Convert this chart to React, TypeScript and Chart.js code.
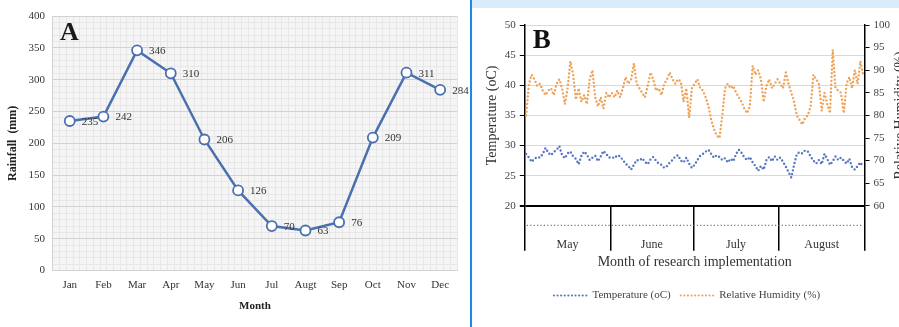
import React, { useEffect, useRef } from 'react';
import { Chart, registerables } from 'chart.js';

Chart.register(...registerables);

const SERIF = "'Liberation Serif', 'Times New Roman', serif";

// ---------- Panel A : monthly rainfall ----------
const rainMonths = ['Jan', 'Feb', 'Mar', 'Apr', 'May', 'Jun', 'Jul', 'Augt', 'Sep', 'Oct', 'Nov', 'Dec'];
const rainfall = [235, 242, 346, 310, 206, 126, 70, 63, 76, 209, 311, 284];
const rainTicks = [0, 50, 100, 150, 200, 250, 300, 350, 400];

// ---------- Panel B : daily temperature & humidity ----------
const monthNames = ['May', 'June', 'July', 'August'];
const tempMay = [28.6, 28.0, 27.3, 27.8, 28.1, 28.0, 28.6, 29.6, 28.8, 28.4, 28.9, 29.3, 29.9, 28.4, 27.9, 28.7, 29.0, 28.2, 27.8, 26.9, 28.3, 29.0, 28.5, 27.6, 28.0, 28.3, 27.4, 28.2, 29.1, 28.6, 28.0];
const tempJun = [28.1, 27.9, 28.4, 28.2, 27.6, 27.0, 26.6, 26.0, 26.8, 27.6, 27.5, 27.9, 27.3, 26.9, 27.7, 28.1, 27.5, 27.0, 26.8, 26.3, 26.6, 27.2, 27.6, 28.2, 28.4, 27.5, 27.2, 28.0, 27.0, 26.3];
const tempJul = [26.8, 27.6, 28.3, 28.6, 29.0, 29.3, 28.6, 28.0, 28.4, 28.1, 27.6, 27.9, 27.2, 27.8, 27.4, 28.6, 29.3, 28.8, 28.0, 27.6, 28.1, 27.2, 26.6, 25.8, 26.6, 26.0, 27.6, 28.1, 27.4, 28.2, 27.6];
const tempAug = [28.0, 27.3, 26.5, 25.6, 24.7, 26.8, 28.6, 28.9, 28.7, 29.2, 29.0, 28.2, 27.5, 27.0, 27.6, 26.9, 28.6, 27.8, 26.8, 27.4, 28.2, 27.6, 28.0, 27.5, 27.0, 27.8, 26.4, 26.0, 26.6, 27.2, 26.5];
const humMay = [80, 87, 89, 88, 86.5, 87, 85.5, 84.5, 85.5, 86, 84.5, 87, 88, 86, 82.5, 86, 92, 89, 83.5, 86, 83, 84.5, 82.5, 88, 90, 84, 82, 84, 81.5, 85, 84];
const humJun = [85, 84, 85.5, 84, 86, 88.5, 87, 88, 91.5, 87, 86, 85, 84, 86.5, 89.5, 88, 85.5, 86, 84.5, 87, 88, 89.5, 88, 87, 88, 87.5, 83, 86, 79.5, 86];
const humJul = [87, 88, 86, 85.5, 84, 82, 79, 77, 75.5, 75, 80, 86, 87, 86, 86.5, 85, 84, 83, 81.5, 80.5, 82, 91, 89, 90, 88, 83, 86.5, 88, 86, 87, 88];
const humAug = [87, 86, 89.5, 87, 85, 83, 80, 79, 78, 79.5, 80, 82, 89, 88, 87, 81, 85, 82.5, 80.5, 94.5, 86, 85.5, 85, 80.5, 87, 88.5, 86, 90, 87, 92, 89];

function RainChart() {
  const ref = useRef<HTMLCanvasElement>(null);
  useEffect(() => {
    const bg = {
      id: 'bgA',
      beforeDraw(c: any) {
        const { ctx, chartArea: a } = c;
        ctx.save();
        ctx.fillStyle = '#f5f5f5';
        ctx.fillRect(a.left, a.top, a.width, a.height);
        ctx.restore();
      },
    };
    const labels = {
      id: 'lblA',
      afterDatasetsDraw(c: any) {
        const ctx = c.ctx;
        const meta = c.getDatasetMeta(0);
        ctx.save();
        ctx.font = `11px ${SERIF}`;
        ctx.fillStyle = '#333';
        ctx.textAlign = 'left';
        ctx.textBaseline = 'middle';
        meta.data.forEach((p: any, i: number) => {
          ctx.fillText(String(rainfall[i]), p.x + 12, p.y + 1);
        });
        ctx.fillStyle = '#1a1a1a';
        ctx.font = `bold 26px ${SERIF}`;
        ctx.fillText('A', c.chartArea.left + 7, c.chartArea.top + 17);
        ctx.restore();
      },
    };
    const chart = new Chart(ref.current!, {
      type: 'line',
      data: {
        labels: rainMonths,
        datasets: [
          {
            data: rainfall,
            borderColor: '#4a70b0',
            borderWidth: 2.5,
            pointRadius: 5,
            pointHoverRadius: 5,
            pointBackgroundColor: '#ffffff',
            pointBorderColor: '#4a70b0',
            pointBorderWidth: 1.8,
            tension: 0,
          },
        ],
      },
      options: {
        animation: false,
        responsive: false,
        maintainAspectRatio: false,
        layout: { padding: { left: 3, right: 13, top: 16, bottom: 14 } },
        plugins: { legend: { display: false }, tooltip: { enabled: false } },
        scales: {
          x: {
            offset: true,
            grid: { offset: true, color: '#d2d2d2', drawTicks: false },
            border: { color: '#d2d2d2' },
            ticks: { padding: 8, color: '#333', font: { family: SERIF, size: 11 } },
            title: {
              display: true,
              text: 'Month',
              color: '#222',
              font: { family: SERIF, size: 11, weight: 'bold' },
              padding: { top: 0, bottom: 0 },
            },
          },
          xm: {
            type: 'linear',
            position: 'bottom',
            min: 0,
            max: 60,
            ticks: { display: false, stepSize: 1, maxTicksLimit: 100, autoSkip: false },
            grid: { color: '#e7e7e7', drawTicks: false },
            border: { display: false },
          },
          y: {
            min: 0,
            max: 400,
            ticks: {
              stepSize: 10,
              autoSkip: false,
              maxTicksLimit: 100,
              padding: 8,
              color: '#333',
              font: { family: SERIF, size: 11 },
              callback: (v: any) => (rainTicks.includes(Number(v)) ? String(v) : ''),
            },
            grid: {
              color: (ctx: any) => (ctx.tick && ctx.tick.value % 50 === 0 ? '#d2d2d2' : '#e7e7e7'),
              drawTicks: false,
            },
            border: { color: '#d2d2d2' },
            title: {
              display: true,
              text: 'Rainfall  (mm)',
              color: '#222',
              font: { family: SERIF, size: 12, weight: 'bold' },
              padding: { top: 3, bottom: 0 },
            },
          },
        },
      } as any,
      plugins: [bg, labels],
    });
    return () => chart.destroy();
  }, []);
  return <canvas ref={ref} width={470} height={327} style={{ display: 'block' }} />;
}

function ClimateChart() {
  const ref = useRef<HTMLCanvasElement>(null);
  useEffect(() => {
    const tempMonths = [tempMay, tempJun, tempJul, tempAug];
    const humMonths = [humMay, humJun, humJul, humAug];
    const temps = tempMonths.flat();
    const hums = humMonths.flat();
    const bounds: number[] = [0];
    tempMonths.forEach((m) => bounds.push(bounds[bounds.length - 1] + m.length));
    const centers = tempMonths.map((m, i) => bounds[i] + m.length / 2);
    const dayLabels: string[] = [];
    tempMonths.forEach((m, mi) => m.forEach((_, d) => dayLabels.push(`${monthNames[mi]} ${d + 1}`)));

    const deco = {
      id: 'decoB',
      afterDraw(c: any) {
        const { ctx, chartArea: a } = c;
        ctx.save();
        ctx.strokeStyle = '#777';
        ctx.lineWidth = 1.3;
        ctx.setLineDash([1.2, 2.2]);
        ctx.beginPath();
        ctx.moveTo(a.left + 2, a.bottom + 19.5);
        ctx.lineTo(a.right - 2, a.bottom + 19.5);
        ctx.stroke();
        ctx.setLineDash([]);
        ctx.fillStyle = '#111';
        ctx.font = `bold 27px ${SERIF}`;
        ctx.textAlign = 'left';
        ctx.textBaseline = 'middle';
        ctx.fillText('B', a.left + 8, a.top + 16);
        ctx.translate(c.width + 1, (a.top + a.bottom) / 2);
        ctx.rotate(-Math.PI / 2);
        ctx.font = `14px ${SERIF}`;
        ctx.fillStyle = '#333';
        ctx.textAlign = 'center';
        ctx.fillText('Relative Humidity (%)', 0, 0);
        ctx.restore();
      },
    };

    const dotted = { borderWidth: 2.4, borderDash: [0, 3.8], borderCapStyle: 'round', pointRadius: 0, pointHoverRadius: 0, tension: 0 };
    const chart = new Chart(ref.current!, {
      type: 'line',
      data: {
        labels: dayLabels,
        datasets: [
          { label: 'Temperature (oC)', data: temps, yAxisID: 'y', borderColor: '#5677c0', ...dotted },
          { label: 'Relative Humidity (%)', data: hums, yAxisID: 'y1', borderColor: '#eda35a', ...dotted },
        ],
      },
      options: {
        animation: false,
        responsive: false,
        maintainAspectRatio: false,
        layout: { padding: { left: 8, right: 5, top: 25, bottom: 16 } },
        plugins: {
          tooltip: { enabled: false },
          legend: {
            position: 'bottom',
            labels: {
              usePointStyle: true,
              pointStyleWidth: 33,
              color: '#444',
              font: { family: SERIF, size: 11 },
              padding: 10,
              generateLabels: (c: any) =>
                c.data.datasets.map((ds: any, i: number) => ({
                  text: ds.label,
                  strokeStyle: ds.borderColor,
                  fillStyle: 'rgba(0,0,0,0)',
                  lineWidth: 2.2,
                  lineDash: [0, 3.6],
                  lineCap: 'round',
                  pointStyle: 'line',
                  hidden: false,
                  datasetIndex: i,
                  fontColor: '#444',
                })),
            },
          },
        },
        scales: {
          x: { display: false, offset: true },
          x2: {
            type: 'linear',
            position: 'bottom',
            min: 0,
            max: bounds[bounds.length - 1],
            afterBuildTicks: (s: any) => {
              s.ticks = [...bounds, ...centers].sort((p, q) => p - q).map((v) => ({ value: v }));
            },
            ticks: {
              autoSkip: false,
              maxRotation: 0,
              minRotation: 0,
              padding: -13,
              color: '#333',
              font: { family: SERIF, size: 12 },
              callback: (v: any) => {
                const i = centers.indexOf(Number(v));
                return i >= 0 ? monthNames[i] : '';
              },
            },
            grid: {
              drawOnChartArea: false,
              tickLength: 45,
              lineWidth: 1.5,
              color: (ctx: any) => (ctx.tick && bounds.includes(ctx.tick.value) ? '#000' : 'rgba(0,0,0,0)'),
              tickColor: (ctx: any) => (ctx.tick && bounds.includes(ctx.tick.value) ? '#000' : 'rgba(0,0,0,0)'),
            },
            border: { display: false },
            title: {
              display: true,
              text: 'Month of research implementation',
              color: '#333',
              font: { family: SERIF, size: 14 },
              padding: { top: 15, bottom: 9 },
            },
          },
          y: {
            position: 'left',
            min: 20,
            max: 50,
            ticks: { stepSize: 5, padding: 4, color: '#444', font: { family: SERIF, size: 11 } },
            grid: {
              color: (ctx: any) => (ctx.tick && ctx.tick.value === 20 ? '#000' : '#d9d9d9'),
              lineWidth: (ctx: any) => (ctx.tick && ctx.tick.value === 20 ? 2 : 1),
              tickColor: '#000',
              tickLength: 5,
            },
            border: { color: '#000', width: 1.5 },
            title: {
              display: true,
              text: 'Temperature (oC)',
              color: '#333',
              font: { family: SERIF, size: 14 },
              padding: { top: 4, bottom: 0 },
            },
          },
          y1: {
            position: 'right',
            min: 60,
            max: 100,
            ticks: { stepSize: 5, padding: 4, color: '#444', font: { family: SERIF, size: 11 } },
            grid: { drawOnChartArea: false, tickColor: '#000', tickLength: 5 },
            border: { color: '#000', width: 1.5 },
          },
        },
      } as any,
      plugins: [deco],
    });
    return () => chart.destroy();
  }, []);
  return <canvas ref={ref} width={427} height={327} style={{ display: 'block' }} />;
}

export default function App() {
  return (
    <div style={{ position: 'absolute', left: 0, top: 0, width: 899, height: 327, background: '#fff', overflow: 'hidden' }}>
      <div style={{ position: 'absolute', left: 0, top: 0, width: 470, height: 327 }}>
        <RainChart />
      </div>
      <div style={{ position: 'absolute', left: 470, top: 0, width: 2, height: 327, background: '#1e88e5' }} />
      <div style={{ position: 'absolute', left: 472, top: 0, width: 427, height: 327 }}>
        <div style={{ position: 'absolute', left: 0, top: 0, width: 427, height: 8, background: '#d8ebfb' }} />
        <div style={{ position: 'absolute', left: 0, top: 0 }}>
          <ClimateChart />
        </div>
      </div>
    </div>
  );
}
